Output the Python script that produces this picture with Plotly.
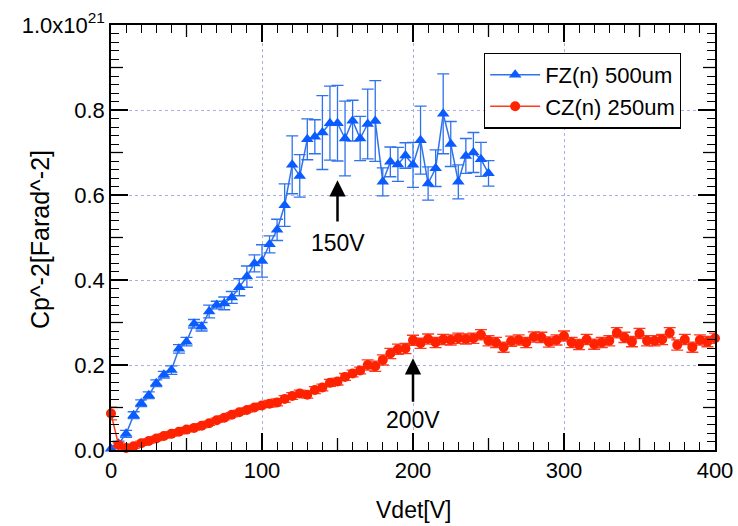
import plotly.graph_objects as go

SCALE = 1e21

# ---------------- data ----------------
fz_v = list(range(0, 251, 5))
fz_val = [0.003, 0.015, 0.038, 0.082, 0.110, 0.129, 0.157, 0.177, 0.188, 0.238,
          0.255, 0.297, 0.290, 0.326, 0.341, 0.345, 0.359, 0.383, 0.408, 0.439,
          0.445, 0.484, 0.518, 0.576, 0.671, 0.645, 0.731, 0.737, 0.747, 0.769,
          0.769, 0.733, 0.775, 0.733, 0.767, 0.774, 0.631, 0.678, 0.672, 0.693,
          0.671, 0.729, 0.627, 0.663, 0.791, 0.720, 0.631, 0.692, 0.700, 0.684,
          0.651]
fz_err = [0.005, 0.006, 0.008, 0.008, 0.008, 0.008, 0.008, 0.008, 0.010, 0.010,
          0.010, 0.010, 0.010, 0.015, 0.009, 0.015, 0.014, 0.020, 0.025, 0.020,
          0.038, 0.020, 0.025, 0.050, 0.068, 0.050, 0.048, 0.040, 0.087, 0.087,
          0.089, 0.088, 0.048, 0.052, 0.082, 0.095, 0.033, 0.035, 0.040, 0.030,
          0.053, 0.080, 0.039, 0.043, 0.094, 0.053, 0.040, 0.041, 0.047, 0.040,
          0.030]

cz_v = list(range(0, 401, 5))
cz_val = [0.086, 0.012, 0.005, 0.009, 0.016, 0.021, 0.027, 0.033, 0.038, 0.043,
          0.048, 0.052, 0.057, 0.063, 0.070, 0.076, 0.083, 0.089, 0.094, 0.100,
          0.105, 0.109, 0.112, 0.120, 0.127, 0.133, 0.130, 0.141, 0.147, 0.158,
          0.161, 0.172, 0.180, 0.187, 0.200, 0.197, 0.212, 0.227, 0.237, 0.239,
          0.258, 0.251, 0.261, 0.253, 0.260, 0.259, 0.263, 0.261, 0.263, 0.271,
          0.257, 0.253, 0.242, 0.256, 0.259, 0.253, 0.266, 0.265, 0.254, 0.259,
          0.268, 0.253, 0.248, 0.260, 0.249, 0.253, 0.257, 0.276, 0.265, 0.255,
          0.274, 0.257, 0.257, 0.260, 0.276, 0.247, 0.260, 0.242, 0.259, 0.255,
          0.263]
cz_err = ([0.015] + [0.005] * 20 + [0.008] * 13 + [0.012] * 47)

y_tickvals = [0.0, 0.2, 0.4, 0.6, 0.8, 1.0]
y_ticktext = ["0.0", "0.2", "0.4", "0.6", "0.8", "1.0x10<sup>21</sup>"]
x_tickvals = [0, 100, 200, 300, 400]
X_RANGE = [0, 400]
Y_RANGE = [0, 1.0 * SCALE]

FONT = "Liberation Sans, Arial, Helvetica, sans-serif"
BLUE_M = "#0a5cff"
BLUE_L = "#2f72ee"
RED_M = "#ff2200"
RED_L = "#ff3a22"
GRID = "#a9aee6"

fig = go.Figure()

fig.add_trace(go.Scatter(
    x=fz_v, y=[v * SCALE for v in fz_val], name="FZ(n) 500um",
    mode="lines+markers",
    line=dict(color=BLUE_L, width=1.5),
    marker=dict(symbol="triangle-up", size=11, color=BLUE_M),
    error_y=dict(type="data", array=[e * SCALE for e in fz_err],
                 color=BLUE_L, thickness=1.3, width=6),
    cliponaxis=False,
))
fig.add_trace(go.Scatter(
    x=cz_v, y=[v * SCALE for v in cz_val], name="CZ(n) 250um",
    mode="lines+markers",
    line=dict(color=RED_L, width=1.5),
    marker=dict(symbol="circle", size=10, color=RED_M),
    error_y=dict(type="data", array=[e * SCALE for e in cz_err],
                 color=RED_L, thickness=1.3, width=6),
    cliponaxis=False,
))

axis_common = dict(
    showline=True, linecolor="black", linewidth=1.5, mirror="ticks",
    ticks="inside", ticklen=17, tickwidth=1.5, tickcolor="black",
    tickfont=dict(family=FONT, size=22, color="black"),
    showgrid=True, gridcolor=GRID, griddash="dot", gridwidth=1,
    zeroline=False,
)

fig.update_layout(
    width=738, height=526,
    paper_bgcolor="white", plot_bgcolor="white",
    margin=dict(l=111, r=23, t=25, b=76, autoexpand=False),
    font=dict(family=FONT, size=22, color="black"),
    xaxis=dict(**axis_common, range=X_RANGE, tickvals=x_tickvals,
               minor=dict(dtick=10, tick0=0, ticks="inside", ticklen=8,
                          tickwidth=1.3, tickcolor="black", showgrid=False)),
    yaxis=dict(**axis_common, range=Y_RANGE,
               tickvals=[v * SCALE for v in y_tickvals], ticktext=y_ticktext,
               minor=dict(dtick=0.02 * SCALE, tick0=0, ticks="inside", ticklen=8,
                          tickwidth=1.3, tickcolor="black", showgrid=False)),
    legend=dict(x=0.6175, y=0.935, xanchor="left", yanchor="top",
                bgcolor="white", bordercolor="black", borderwidth=1.2,
                font=dict(family=FONT, size=22, color="black"),
                tracegroupgap=0, itemwidth=50),
    showlegend=True,
)

# medium (half-step) inward tick marks on all four edges
TICK = dict(color="black", width=1.3)
for i in range(1, 8, 2):
    xv = X_RANGE[0] + i * 50
    fig.add_shape(type="line", xref="x", yref="y", ysizemode="pixel",
                  yanchor=Y_RANGE[0], x0=xv, x1=xv, y0=0, y1=12, line=TICK)
    fig.add_shape(type="line", xref="x", yref="y", ysizemode="pixel",
                  yanchor=Y_RANGE[1], x0=xv, x1=xv, y0=0, y1=-12, line=TICK)
for j in range(1, 10, 2):
    yv = j * 0.1 * SCALE
    fig.add_shape(type="line", xref="x", yref="y", xsizemode="pixel",
                  xanchor=X_RANGE[0], y0=yv, y1=yv, x0=0, x1=12, line=TICK)
    fig.add_shape(type="line", xref="x", yref="y", xsizemode="pixel",
                  xanchor=X_RANGE[1], y0=yv, y1=yv, x0=0, x1=-12, line=TICK)

# axis titles
fig.add_annotation(xref="paper", yref="paper", x=0.5, y=-0.141,
                   xanchor="center", yanchor="middle",
                   text="Vdet[V]", showarrow=False,
                   font=dict(family=FONT, size=23, color="black"))
fig.add_annotation(xref="paper", yref="paper", x=-0.1175, y=0.494,
                   xanchor="center", yanchor="middle",
                   text="Cp^-2[Farad^-2]", showarrow=False, textangle=-90,
                   font=dict(family=FONT, size=25, color="black"))

# arrows and labels
arrow_style = dict(showarrow=True, arrowhead=2, arrowsize=1.3, arrowwidth=2.5,
                   arrowcolor="black", text="", axref="x", ayref="y")
fig.add_annotation(x=150, y=0.635 * SCALE, ax=150, ay=0.534 * SCALE, **arrow_style)
fig.add_annotation(x=150, y=0.487 * SCALE, text="150V", showarrow=False,
                   font=dict(family=FONT, size=23, color="black"))
fig.add_annotation(x=200, y=0.216 * SCALE, ax=200, ay=0.110 * SCALE, **arrow_style)
fig.add_annotation(x=200, y=0.070 * SCALE, text="200V", showarrow=False,
                   font=dict(family=FONT, size=23, color="black"))

fig.write_html("out.html", config={"displayModeBar": False},
               post_script="document.body.style.margin='0';document.body.style.overflow='hidden';")
